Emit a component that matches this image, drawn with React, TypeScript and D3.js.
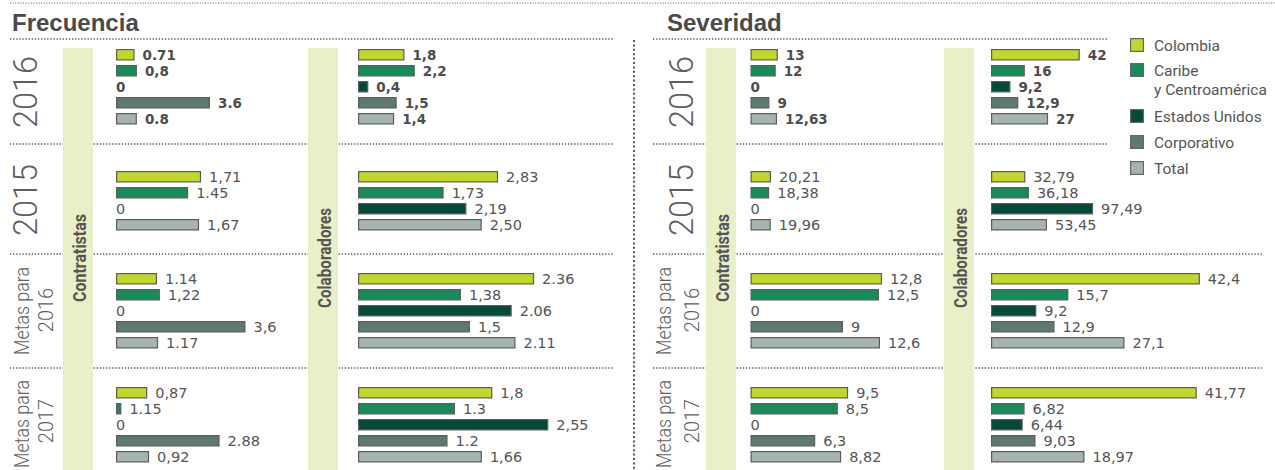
import React from "react";
import * as d3 from "d3";

// ---------- data ----------
const categories = ["Colombia", "Caribe y Centroamérica", "Estados Unidos", "Corporativo", "Total"];
const metricTitles = ["Frecuencia", "Severidad"];
const columnLabels = ["Contratistas", "Colaboradores"];
const rowLabels = [["2016"], ["2015"], ["Metas para", "2016"], ["Metas para", "2017"]];

// Frecuencia · Contratistas
const frecContr2016 = [0.71, 0.8, 0, 3.6, 0.8];
const frecContr2015 = [1.71, 1.45, 0, null, 1.67];
const frecContrMeta2016 = [1.14, 1.22, 0, 3.6, 1.17];
const frecContrMeta2017 = [0.87, 0.15, 0, 2.88, 0.92];
const frecContr2016Text = ["0.71", "0,8", "0", "3.6", "0.8"];
const frecContr2015Text = ["1,71", "1.45", "0", null, "1,67"];
const frecContrMeta2016Text = ["1.14", "1,22", "0", "3,6", "1.17"];
const frecContrMeta2017Text = ["0,87", "1.15", "0", "2.88", "0,92"];

// Frecuencia · Colaboradores
const frecColab2016 = [1.8, 2.2, 0.4, 1.5, 1.4];
const frecColab2015 = [2.83, 1.73, 2.19, null, 2.5];
const frecColabMeta2016 = [2.36, 1.38, 2.06, 1.5, 2.11];
const frecColabMeta2017 = [1.8, 1.3, 2.55, 1.2, 1.66];
const frecColab2016Text = ["1,8", "2,2", "0,4", "1,5", "1,4"];
const frecColab2015Text = ["2,83", "1,73", "2,19", null, "2,50"];
const frecColabMeta2016Text = ["2.36", "1,38", "2.06", "1,5", "2.11"];
const frecColabMeta2017Text = ["1,8", "1.3", "2,55", "1.2", "1,66"];

// Severidad · Contratistas
const sevContr2016 = [13, 12, 0, 9, 12.63];
const sevContr2015 = [20.21, 18.38, 0, null, 19.96];
const sevContrMeta2016 = [12.8, 12.5, 0, 9, 12.6];
const sevContrMeta2017 = [9.5, 8.5, 0, 6.3, 8.82];

// Severidad · Colaboradores
const sevColab2016 = [42, 16, 9.2, 12.9, 27];
const sevColab2015 = [32.79, 36.18, 97.49, null, 53.45];
const sevColabMeta2016 = [42.4, 15.7, 9.2, 12.9, 27.1];
const sevColabMeta2017 = [41.77, 6.82, 6.44, 9.03, 18.97];

// each panel of the original uses its own scale: domain max per row
const frecContrDomain = [7.66, 4.02, 5.56, 5.56];
const frecColabDomain = [7.75, 4.04, 2.68, 2.68];
const sevContrDomain = [95.2, 197, 19.46, 19.46];
const sevColabDomain = [94.6, 191, 40.6, 40.6];

const commaText = (arr: (number | null)[]) =>
  arr.map((v) => (v === null ? null : String(v).replace(".", ",")));

// ---------- styles ----------
const palette = ["#c3d52f", "#1a8a5b", "#06483a", "#5e7a6e", "#a7b3ad"];
const bandFill = "#e9efc6";
const textDark = "#4a4a4a";
const textMid = "#555";
const dotColor = "#555";

type Cell = { values: (number | null)[]; texts: (string | null)[]; domain: number };

const metrics: Cell[][][] = [
  [
    [
      { values: frecContr2016, texts: frecContr2016Text, domain: frecContrDomain[0] },
      { values: frecContr2015, texts: frecContr2015Text, domain: frecContrDomain[1] },
      { values: frecContrMeta2016, texts: frecContrMeta2016Text, domain: frecContrDomain[2] },
      { values: frecContrMeta2017, texts: frecContrMeta2017Text, domain: frecContrDomain[3] },
    ],
    [
      { values: frecColab2016, texts: frecColab2016Text, domain: frecColabDomain[0] },
      { values: frecColab2015, texts: frecColab2015Text, domain: frecColabDomain[1] },
      { values: frecColabMeta2016, texts: frecColabMeta2016Text, domain: frecColabDomain[2] },
      { values: frecColabMeta2017, texts: frecColabMeta2017Text, domain: frecColabDomain[3] },
    ],
  ],
  [
    [
      { values: sevContr2016, texts: commaText(sevContr2016), domain: sevContrDomain[0] },
      { values: sevContr2015, texts: commaText(sevContr2015), domain: sevContrDomain[1] },
      { values: sevContrMeta2016, texts: commaText(sevContrMeta2016), domain: sevContrDomain[2] },
      { values: sevContrMeta2017, texts: commaText(sevContrMeta2017), domain: sevContrDomain[3] },
    ],
    [
      { values: sevColab2016, texts: commaText(sevColab2016), domain: sevColabDomain[0] },
      { values: sevColab2015, texts: commaText(sevColab2015), domain: sevColabDomain[1] },
      { values: sevColabMeta2016, texts: commaText(sevColabMeta2016), domain: sevColabDomain[2] },
      { values: sevColabMeta2017, texts: commaText(sevColabMeta2017), domain: sevColabDomain[3] },
    ],
  ],
];

// ---------- layout ----------
const W = 1275;
const H = 470;
const firstSlotY = [49, 171, 273, 387];
const slotStep = 16;
const barH = 11.5;
const barRange = 200;

const metricLayout = [
  {
    titleX: 12,
    lineX: [10, 613],
    sepX: [[10, 613], [10, 613], [10, 613]],
    bandX: [63, 308],
    barX0: [116, 358],
    yearBase: 37,
    metaBase: [29, 53],
  },
  {
    titleX: 667,
    lineX: [653, 1107],
    sepX: [[653, 1107], [653, 1262], [653, 1262]],
    bandX: [706, 944],
    barX0: [750.5, 991],
    yearBase: 693,
    metaBase: [671, 699],
  },
];
const sepY = [144, 254, 368];
const yearCenterY = [92, 200];
const metaCenterY = [
  [311, 310],
  [424, 421],
];
const legendY = [45, 70, 116, 142, 168];

function Dotted({ x1, y1, x2, y2, w = 1.3, dash = "1.3 1.8" }: any) {
  return <line x1={x1} y1={y1} x2={x2} y2={y2} stroke={dotColor} strokeWidth={w} strokeDasharray={dash} />;
}

export default function App() {
  return (
    <svg
      width={W}
      height={H}
      viewBox={`0 0 ${W} ${H}`}
      style={{ position: "absolute", left: 0, top: 0, background: "#fff" }}
    >
      <rect x={0} y={0} width={W} height={H} fill="#fff" />
      <Dotted x1={10} y1={3} x2={W} y2={3} w={1} dash="1 1.6" />
      <Dotted x1={634} y1={40} x2={634} y2={H} w={2} dash="2 2.4" />

      {metrics.map((cols, mi) => {
        const L = metricLayout[mi];
        return (
          <g key={mi}>
            <text
              x={L.titleX}
              y={31}
              fontFamily="Liberation Sans, Arial, sans-serif"
              fontWeight="bold"
              fontSize={24}
              fill={textDark}
            >
              {metricTitles[mi]}
            </text>
            <Dotted x1={L.lineX[0]} y1={39} x2={L.lineX[1]} y2={39} />
            {sepY.map((y, si) => (
              <Dotted key={si} x1={L.sepX[si][0]} y1={y} x2={L.sepX[si][1]} y2={y} />
            ))}

            {/* row labels */}
            {rowLabels.map((lab, ri) => {
              if (lab.length === 1) {
                return (
                  <text
                    key={ri}
                    transform={`translate(${L.yearBase},${yearCenterY[ri]}) rotate(-90)`}
                    textAnchor="middle"
                    fontFamily="Roboto, sans-serif"
                    fontWeight={300}
                    fontSize={32.5}
                    fill="#5f5f5f"
                  >
                    {lab[0]}
                  </text>
                );
              }
              const cy = metaCenterY[ri - 2];
              return (
                <g key={ri}>
                  <text
                    transform={`translate(${L.metaBase[0]},${cy[0]}) rotate(-90)`}
                    textAnchor="middle"
                    fontFamily="Roboto, sans-serif"
                    fontWeight={300}
                    fontSize={20}
                    fill="#5f5f5f"
                    textLength={88}
                    lengthAdjust="spacingAndGlyphs"
                  >
                    {lab[0]}
                  </text>
                  <text
                    transform={`translate(${L.metaBase[1]},${cy[1]}) rotate(-90)`}
                    textAnchor="middle"
                    fontFamily="Roboto, sans-serif"
                    fontWeight={300}
                    fontSize={20}
                    fill="#5f5f5f"
                  >
                    {lab[1]}
                  </text>
                </g>
              );
            })}

            {cols.map((rows, ci) => {
              const bx = L.bandX[ci];
              const x0 = L.barX0[ci];
              return (
                <g key={ci}>
                  <rect x={bx} y={48} width={30} height={H - 48} fill={bandFill} />
                  <text
                    transform={`translate(${bx + 22.5},258) rotate(-90)`}
                    textAnchor="middle"
                    fontFamily="Roboto, sans-serif"
                    fontWeight="bold"
                    fontSize={18}
                    fill={textMid}
                    textLength={ci === 0 ? 88 : 100}
                    lengthAdjust="spacingAndGlyphs"
                  >
                    {columnLabels[ci]}
                  </text>
                  {rows.map((cell, ri) => {
                    const x = d3.scaleLinear().domain([0, cell.domain]).range([0, barRange]);
                    const items = cell.values
                      .map((v, k) => ({ v, k, t: cell.texts[k] }))
                      .filter((d) => d.v !== null) as { v: number; k: number; t: string }[];
                    const bold = ri === 0;
                    return (
                      <g key={ri}>
                        {items.map((d, si) => {
                          const y = firstSlotY[ri] + si * slotStep;
                          const w = x(d.v);
                          const cy = y + barH / 2;
                          return (
                            <g key={d.k}>
                              {w > 0 && (
                                <rect
                                  x={x0 + 0.6}
                                  y={y + 0.6}
                                  width={Math.max(w - 1.2, 0.5)}
                                  height={barH - 1.2}
                                  fill={palette[d.k]}
                                  stroke="#5c5c5c"
                                  strokeWidth={1.2}
                                />
                              )}
                              <text
                                x={w > 0 ? x0 + w + 8 : x0}
                                y={cy + 0.5}
                                dominantBaseline="central"
                                fontFamily="DejaVu Sans, sans-serif"
                                fontWeight={bold ? "bold" : "normal"}
                                fontSize={bold ? 13.5 : 14.5}
                                fill={bold ? "#4d4d4d" : textMid}
                              >
                                {d.t}
                              </text>
                            </g>
                          );
                        })}
                      </g>
                    );
                  })}
                </g>
              );
            })}
          </g>
        );
      })}

      {/* legend */}
      {categories.map((c, i) => {
        const cy = legendY[i];
        const parts = i === 1 ? ["Caribe", "y Centroamérica"] : [c];
        return (
          <g key={c}>
            <rect
              x={1130.6}
              y={cy - 6.4}
              width={12.8}
              height={12.8}
              fill={palette[i]}
              stroke="#666"
              strokeWidth={1.2}
            />
            <text x={1154} y={cy + 5.5} fontFamily="Roboto, sans-serif" fontSize={15.5} fill={textMid}>
              {parts.map((p, k) => (
                <tspan key={k} x={1154} dy={k === 0 ? 0 : 19}>
                  {p}
                </tspan>
              ))}
            </text>
          </g>
        );
      })}
    </svg>
  );
}
